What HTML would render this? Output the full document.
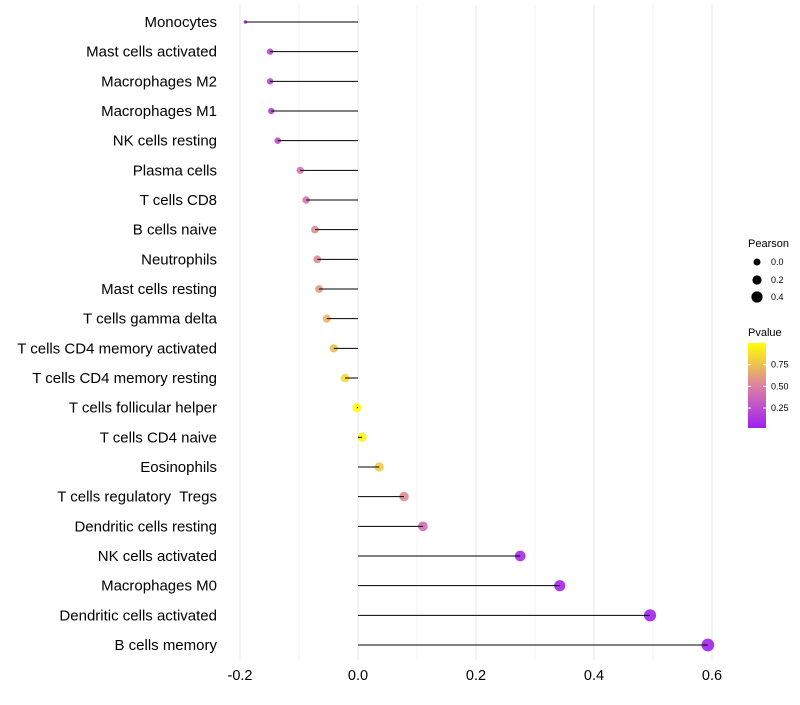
<!DOCTYPE html>
<html><head><meta charset="utf-8"><style>
body{margin:0;background:#fff;font-family:"Liberation Sans",sans-serif}
text{white-space:pre}
</style></head><body>
<svg id="chart" width="800" height="700" xmlns="http://www.w3.org/2000/svg"></svg>
<script>
const categories=["Monocytes","Mast cells activated","Macrophages M2","Macrophages M1","NK cells resting","Plasma cells","T cells CD8","B cells naive","Neutrophils","Mast cells resting","T cells gamma delta","T cells CD4 memory activated","T cells CD4 memory resting","T cells follicular helper","T cells CD4 naive","Eosinophils","T cells regulatory  Tregs","Dendritic cells resting","NK cells activated","Macrophages M0","Dendritic cells activated","B cells memory"];
const pearson=[-0.191,-0.149,-0.149,-0.147,-0.136,-0.098,-0.088,-0.073,-0.069,-0.066,-0.053,-0.041,-0.022,-0.002,0.007,0.036,0.078,0.110,0.275,0.342,0.495,0.593];
const pvalues=[0.1,0.2,0.2,0.2,0.25,0.45,0.45,0.55,0.55,0.6,0.7,0.75,0.85,0.99,0.97,0.8,0.55,0.4,0.08,0.05,0.03,0.02];
const xTicks=[-0.2,0,0.2,0.4,0.6];
const xTickLabels=["-0.2","0.0","0.2","0.4","0.6"];
const NS="http://www.w3.org/2000/svg";
const svg=document.getElementById('chart');
const xS=v=>358+v*590;
const yS=i=>22+i*(623/21);
function rS(v){const k=[[-0.2,1.4],[-0.19,1.8],[-0.15,3.2],[0,4.5],[0.6,6.4]];
 if(v<=k[0][0])return k[0][1];
 for(let i=1;i<k.length;i++){if(v<=k[i][0]){const u=(v-k[i-1][0])/(k[i][0]-k[i-1][0]);return k[i-1][1]+u*(k[i][1]-k[i-1][1]);}}
 return k[k.length-1][1];}
function lerp(a,b,t){return a+(b-a)*t}
function col(p){const t=Math.max(0,Math.min(1,(p-0.02)/0.98));
 const s=[[160,32,240],[220,130,160],[255,255,0]];let a,b,u;
 if(t<0.5){a=s[0];b=s[1];u=t/0.5}else{a=s[1];b=s[2];u=(t-0.5)/0.5}
 return `rgb(${Math.round(lerp(a[0],b[0],u))},${Math.round(lerp(a[1],b[1],u))},${Math.round(lerp(a[2],b[2],u))})`;}
function mk(tag,attrs,parent){const e=document.createElementNS(NS,tag);for(const k in attrs)e.setAttribute(k,attrs[k]);(parent||svg).appendChild(e);return e;}
for(let v=-0.2;v<=0.61;v+=0.1){const maj=Math.abs(Math.round(v*10))%2===0;const g=mk('line',{x1:xS(v),x2:xS(v),y1:5,y2:660,stroke:maj?'#ebebeb':'#f4f4f4','stroke-width':maj?1.2:0.8});

}
xTicks.forEach((v,i)=>{const t=mk('text',{x:xS(v),y:680,'text-anchor':'middle','font-size':14.5,fill:'#000'});t.textContent=xTickLabels[i];

});
categories.forEach((c,i)=>{const y=yS(i);
 const t=mk('text',{x:217,y:y+5,'text-anchor':'end','font-size':15,fill:'#000'});t.textContent=c;
 
 
 const p=mk('circle',{cx:xS(pearson[i]),cy:y,r:rS(pearson[i]),fill:col(pvalues[i]),'fill-opacity':0.9});
 
 
 const l=mk('line',{x1:xS(0),x2:xS(pearson[i]),y1:y,y2:y,stroke:'#000','stroke-width':1});
 
 
});
const lg=mk('g',{});


mk('text',{x:748,y:247,'font-size':11},lg).textContent='Pearson';
[[262,'0.0',3.5],[280,'0.2',4.6],[297,'0.4',5.6]].forEach(([y,s,r])=>{mk('circle',{cx:757,cy:y,r:r},lg);mk('text',{x:771,y:y+3,'font-size':9},lg).textContent=s;});
const cg=mk('g',{});


mk('text',{x:748,y:336,'font-size':11},cg).textContent='Pvalue';
const defs=mk('defs',{});const gr=mk('linearGradient',{id:'pg',x1:0,y1:1,x2:0,y2:0},defs);
[0,0.25,0.5,0.75,1].forEach(o=>mk('stop',{offset:o,'stop-color':col(0.02+o*0.98)},gr));
mk('rect',{x:748,y:343,width:18,height:85,fill:'url(#pg)'},cg);
[[0.75,'0.75'],[0.5,'0.50'],[0.25,'0.25']].forEach(([v,s])=>{const y=428-(v-0.02)/0.98*85;
 mk('line',{x1:748,x2:751,y1:y,y2:y,stroke:'#fff'},cg);mk('line',{x1:763,x2:766,y1:y,y2:y,stroke:'#fff'},cg);
 mk('text',{x:771,y:y+3,'font-size':9},cg).textContent=s;});
</script>
</body></html>
